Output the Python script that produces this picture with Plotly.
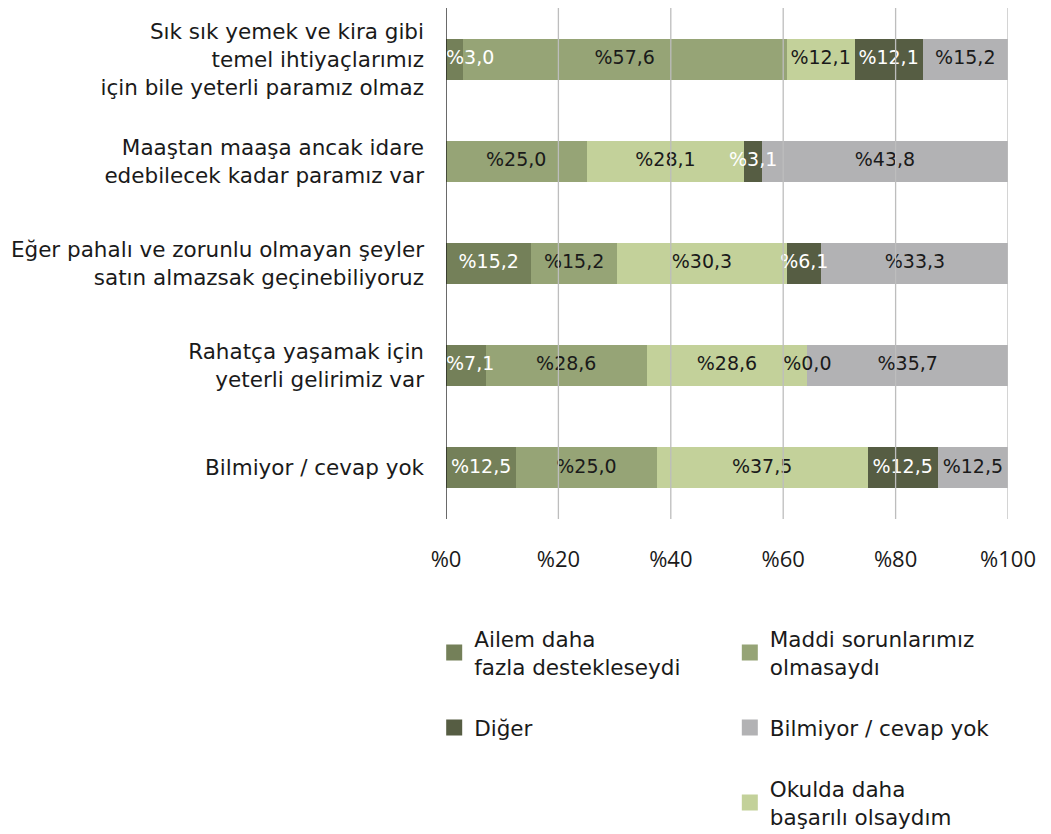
import plotly.graph_objects as go

categories = [
    "Sık sık yemek ve kira gibi<br>temel ihtiyaçlarımız<br>için bile yeterli paramız olmaz",
    "Maaştan maaşa ancak idare<br>edebilecek kadar paramız var",
    "Eğer pahalı ve zorunlu olmayan şeyler<br>satın almazsak geçinebiliyoruz",
    "Rahatça yaşamak için<br>yeterli gelirimiz var",
    "Bilmiyor / cevap yok",
]

ailem = [3.0, None, 15.2, 7.1, 12.5]
maddi = [57.6, 25.0, 15.2, 28.6, 25.0]
okulda = [12.1, 28.1, 30.3, 28.6, 37.5]
diger = [12.1, 3.1, 6.1, 0.0, 12.5]
bilmiyor = [15.2, 43.8, 33.3, 35.7, 12.5]

tick_vals = [0, 20, 40, 60, 80, 100]
tick_text = ["%0", "%20", "%40", "%60", "%80", "%100"]

FONT = "DejaVu Sans"
DARK = "#1a1a1a"

series = [
    # name, values, colour, text colour, legend, rank
    ("Ailem daha<br>fazla destekleseydi", ailem, "#748059", "white", "legend", 1),
    ("Maddi sorunlarımız<br>olmasaydı", maddi, "#96a476", DARK, "legend2", 1),
    ("Okulda daha<br>başarılı olsaydım", okulda, "#c3d19a", DARK, "legend2", 3),
    ("Diğer", diger, "#565d43", "white", "legend", 2),
    ("Bilmiyor / cevap yok", bilmiyor, "#b2b2b4", DARK, "legend2", 2),
]

def fmt(v):
    if v is None:
        return ""
    return "%" + f"{v:.1f}".replace(".", ",")

fig = go.Figure()

# the bars
for name, vals, col, tcol, leg, rank in series:
    fig.add_trace(go.Bar(
        y=categories, x=vals, orientation="h", name=name,
        marker=dict(color=col, line=dict(width=0)),
        showlegend=False, hoverinfo="skip",
    ))

# value labels on top of every bar (so overflowing text is not hidden)
start = [0.0] * len(categories)
for name, vals, col, tcol, leg, rank in series:
    vv = [v or 0 for v in vals]
    xs = [max(s + v / 2, 4.3) for s, v in zip(start, vv)]
    colors = [tcol if v > 0 else DARK for v in vv]
    fig.add_trace(go.Scatter(
        x=xs, y=categories, mode="text", text=[fmt(v) for v in vals],
        textposition="middle center",
        textfont=dict(family=FONT, size=19, color=colors),
        showlegend=False, hoverinfo="skip", cliponaxis=False,
    ))
    start = [s + v for s, v in zip(start, vv)]

# legend entries (bigger squares than the default bar swatch)
for name, vals, col, tcol, leg, rank in series:
    fig.add_trace(go.Scatter(
        x=[None], y=[None], mode="markers", name=name,
        marker=dict(symbol="square", size=17, color=col),
        legend=leg, legendrank=rank, legendgroup=name,
    ))

# gridlines sit above the bars in the original
for t in tick_vals[1:]:
    fig.add_shape(type="line", xref="x", yref="paper", x0=t, x1=t, y0=0, y1=1,
                  line=dict(color="#bdbdbd", width=1.3), layer="above")
fig.add_shape(type="line", xref="x", yref="paper", x0=0, x1=0, y0=0, y1=1,
              line=dict(color=DARK, width=1.3), layer="above")

legend_style = dict(
    orientation="v", yanchor="top", xanchor="left",
    traceorder="grouped", tracegroupgap=30, itemsizing="trace",
    font=dict(family=FONT, size=21.5, color=DARK),
    bgcolor="rgba(0,0,0,0)", valign="middle",
)

fig.update_layout(
    barmode="stack",
    bargap=0.6,
    width=1051, height=834,
    margin=dict(l=438, r=51, t=0, b=323),
    paper_bgcolor="white", plot_bgcolor="white",
    font=dict(family=FONT, size=20, color=DARK),
    legend=dict(x=-0.021, y=-0.194, **legend_style),
    legend2=dict(x=0.505, y=-0.194, **legend_style),
    xaxis=dict(
        range=[0, 100], tickvals=tick_vals, ticktext=tick_text,
        showgrid=False, zeroline=False, showline=False,
        ticks="outside", ticklen=21, tickcolor="rgba(0,0,0,0)",
        tickfont=dict(family="Open Sans", size=22, color=DARK),
        fixedrange=True,
    ),
    yaxis=dict(
        autorange="reversed", showgrid=False, showline=False,
        ticks="", ticklabelstandoff=21,
        tickfont=dict(family=FONT, size=21.5, color=DARK),
        fixedrange=True,
    ),
)

fig.write_html("out.html")
